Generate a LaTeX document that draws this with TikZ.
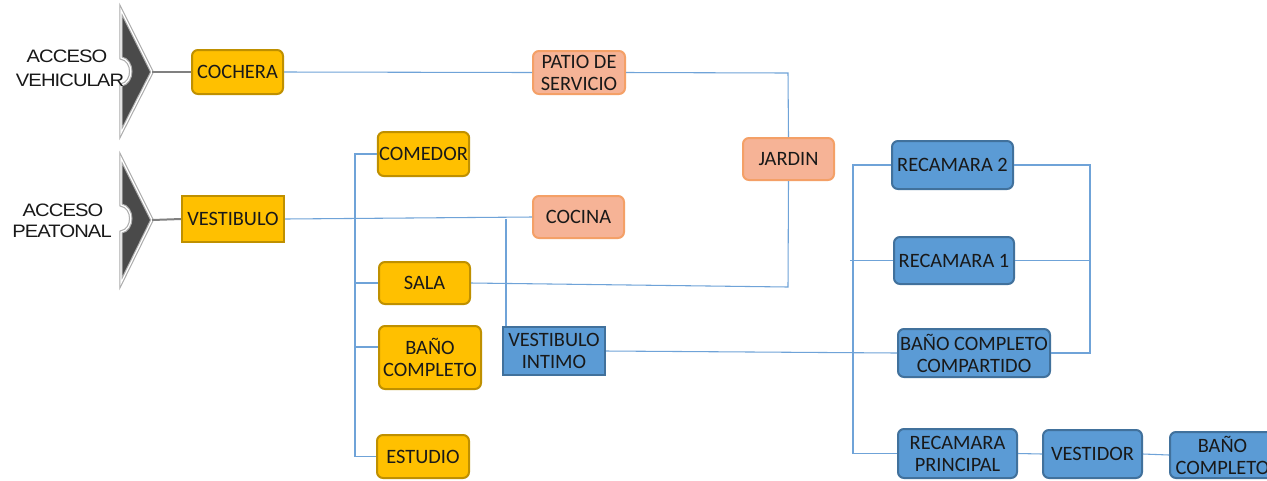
\documentclass[tikz,border=0pt]{standalone}
\usepackage{fontspec}
\setmainfont{Carlito}
\newfontfamily\accfont[LetterSpace=-5,FakeStretch=1.12]{Liberation Sans}
\definecolor{goldfill}{HTML}{FFC000}
\definecolor{golddraw}{HTML}{BF9000}
\definecolor{salfill}{HTML}{F6B396}
\definecolor{saldraw}{HTML}{F4A067}
\definecolor{bluefill}{HTML}{5B9BD5}
\definecolor{bluedraw}{HTML}{41719C}
\definecolor{linkc}{HTML}{6FA3D8}
\definecolor{chev}{HTML}{4A4A4A}
\begin{document}
\begin{tikzpicture}[x=0.75pt,y=-0.75pt,
  wh/.style 2 args={minimum width=#1*0.75pt, minimum height=#2*0.75pt},
  basebox/.style={line width=1.5pt, rounded corners=4.5pt, inner sep=1pt, align=center,
    font=\fontsize{15.3}{16.5}\selectfont, text=black!90},
  gbox/.style={basebox, draw=golddraw, fill=goldfill},
  sbox/.style={basebox, draw=saldraw, fill=salfill},
  bbox/.style={basebox, draw=bluedraw, fill=bluefill},
  link/.style={draw=linkc, line width=0.8pt},
  gline/.style={draw=gray, line width=1.5pt},
  chevout/.style={draw=gray!65, line width=2.6pt, fill=chev, line join=miter},
  chevin/.style={draw=white, line width=0.9pt, line join=miter},
  acc/.style={font=\accfont\fontsize{13.5}{14}\selectfont, inner sep=0pt, text=black!90}]
\useasboundingbox (0,0) rectangle (1267,480);
\fill[white] (0,0) rectangle (1267,480);

% chevrons
\filldraw[chevout] (121,10) -- (152,72) -- (121,133) -- (121,85) .. controls (134,83) and (134,60) .. (121,58) -- cycle;
\draw[chevin] (121,10) -- (152,72) -- (121,133) -- (121,85) .. controls (134,83) and (134,60) .. (121,58) -- cycle;
\filldraw[chevout] (121,158) -- (152,220) -- (121,283) -- (121,232) .. controls (134,230) and (134,207) .. (121,205) -- cycle;
\draw[chevin] (121,158) -- (152,220) -- (121,283) -- (121,232) .. controls (134,230) and (134,207) .. (121,205) -- cycle;
\coordinate (tip1) at (152,72);
\coordinate (tip2) at (152,220);

\node[acc] (acc1a) at (67,56) {ACCESO};
\node[acc] (acc1b) at (70,80) {VEHICULAR};
\node[acc] (acc2a) at (63,210) {ACCESO};
\node[acc] (acc2b) at (62,231) {PEATONAL};

% nodes
\node[gbox, wh={91}{44}] (cochera) at (237.5,72) {COCHERA};
\node[gbox, sharp corners, wh={102}{46}] (vest) at (233,219) {VESTIBULO};
\node[gbox, wh={91}{44}] (comedor) at (423.5,154) {COMEDOR};
\node[gbox, wh={91}{42}] (sala) at (424.5,283) {SALA};
\node[gbox, wh={102}{63}] (bano) at (430,357.5) {BAÑO\\COMPLETO};
\node[gbox, wh={92}{43}] (estudio) at (423,456.5) {ESTUDIO};
\node[sbox, wh={92}{43}] (patio) at (579,72.5) {PATIO DE\\SERVICIO};
\node[sbox, wh={91}{42}] (cocina) at (578.5,217) {COCINA};
\node[sbox, wh={91}{42}] (jardin) at (788.5,159) {JARDIN};
\node[bbox, sharp corners, wh={102}{48}] (vint) at (554,351) {VESTIBULO\\INTIMO};
\node[bbox, wh={121}{48}] (rec2) at (952.5,165) {RECAMARA 2};
\node[bbox, wh={120}{47}] (rec1) at (954,260.5) {RECAMARA 1};
\node[bbox, wh={152}{48}] (bcc) at (974,353) {BAÑO COMPLETO\\COMPARTIDO};
\node[bbox, wh={119}{49}] (recp) at (957.5,453.5) {RECAMARA\\PRINCIPAL};
\node[bbox, wh={105}{46}] (bano2) at (1222.5,455) {BAÑO\\COMPLETO};
\node[bbox, wh={99}{48}] (vestidor) at (1092.5,454) {VESTIDOR};

% gray access lines
\draw[gline] (tip1) -- (cochera.west);
\draw[gline] (tip2) -- (vest.west);

% connectors
\coordinate (pj) at (788,73);
\coordinate (sj) at (788,287);
\draw[link] (cochera.east) -- (patio.west);
\draw[link] (patio.east) -- (pj) -- (jardin.north);
\draw[link] (sala.east) -- (sj) -- (jardin.south);
\draw[link] (vest.east) -- (cocina.west);

\coordinate (lt) at (355,154);
\coordinate (lb) at (355,456.5);
\coordinate (ls) at (355,283);
\coordinate (lba) at (355,347);
\draw[link] (comedor.west) -- (lt) -- (lb) -- (estudio.west);
\draw[link] (ls) -- (sala.west);
\draw[link] (lba) -- (bano.west |- lba);

\coordinate (vc) at (506,219);
\draw[link] (vc) -- (vc |- vint.north);
\draw[link] (vint.east) -- (bcc.west);

\coordinate (rt) at (853,165);
\coordinate (rb) at (853,453.5);
\coordinate (r1l) at (850,260.5);
\draw[link] (rec2.west) -- (rt) -- (rb) -- (recp.west);
\draw[link] (r1l) -- (rec1.west);

\coordinate (qt) at (1090,165);
\coordinate (qb) at (1090,353);
\coordinate (q1) at (1090,260.5);
\draw[link] (rec2.east) -- (qt) -- (qb) -- (bcc.east);
\draw[link] (rec1.east) -- (q1);

\draw[link] (recp.east) -- (vestidor.west);
\draw[link] (vestidor.east) -- (bano2.west);
\end{tikzpicture}
\end{document}
